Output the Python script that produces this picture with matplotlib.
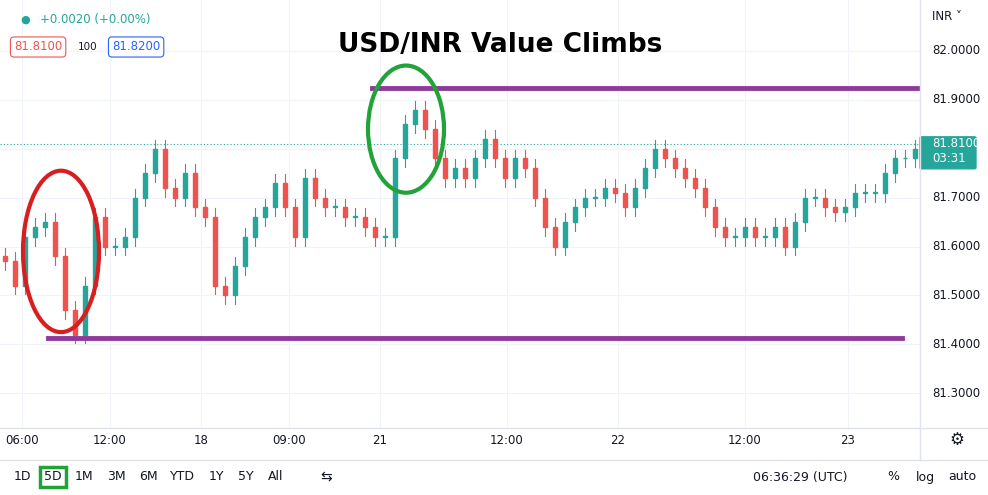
import matplotlib
matplotlib.use("Agg")
import matplotlib.pyplot as plt
from matplotlib.patches import Ellipse, Rectangle, FancyBboxPatch

# closing prices, one candle every 10 px step of the time axis
closes = [81.57, 81.52, 81.62, 81.64, 81.65, 81.58, 81.47, 81.42, 81.52, 81.66,
          81.60, 81.60, 81.62, 81.70, 81.75, 81.80, 81.72, 81.70, 81.75, 81.68,
          81.66, 81.52, 81.50, 81.56, 81.62, 81.66, 81.68, 81.73, 81.68, 81.62,
          81.74, 81.70, 81.68, 81.68, 81.66, 81.66, 81.64, 81.62, 81.62, 81.78,
          81.85, 81.88, 81.84, 81.78, 81.74, 81.76, 81.74, 81.78, 81.82, 81.78,
          81.74, 81.78, 81.76, 81.70, 81.64, 81.60, 81.65, 81.68, 81.70, 81.70,
          81.72, 81.71, 81.68, 81.72, 81.76, 81.80, 81.78, 81.76, 81.74, 81.72,
          81.68, 81.64, 81.62, 81.62, 81.64, 81.62, 81.62, 81.64, 81.60, 81.65,
          81.70, 81.70, 81.68, 81.67, 81.68, 81.71, 81.71, 81.71, 81.75, 81.78,
          81.78, 81.80, 81.81]
first_open = 81.58
x_tick_pos = [22, 110, 201, 289, 380, 507, 618, 745, 848]
x_tick_lab = ["06:00", "12:00", "18", "09:00", "21", "12:00", "22", "12:00", "23"]
y_ticks = [82.0, 81.9, 81.8, 81.7, 81.6, 81.5, 81.4, 81.3]
last_price = 81.81
support, resistance = 81.412, 81.925

W, H = 988, 495
fig = plt.figure(figsize=(W/100, H/100), dpi=100)
fig.patch.set_facecolor("white")
ax = fig.add_axes([0, 67/H, 920/W, 428/H])
ax.set_xlim(0, 920)
ax.set_ylim(81.229, 82.104)
for s in ax.spines.values():
    s.set_visible(False)
ax.set_xticks([]); ax.set_yticks([])
for y in y_ticks:
    ax.axhline(y, color="#f0f3fa", lw=0.8, zorder=0)
for x in x_tick_pos:
    ax.axvline(x, color="#f0f3fa", lw=0.8, zorder=0)

up, dn = "#26a69a", "#ef5350"
o = first_open
for i, c in enumerate(closes):
    x = 5 + i * 10
    col = up if c >= o else dn
    hi, lo = max(o, c) + 0.018, min(o, c) - 0.018
    ax.plot([x, x], [lo, hi], color=col, lw=0.8, zorder=2)
    ax.add_patch(Rectangle((x - 2.2, min(o, c)), 4.4, max(abs(c - o), 0.002),
                           color=col, zorder=3))
    o = c

ax.axhline(last_price, color=up, lw=0.8, ls=(0, (1, 2)), zorder=1)
purple = "#8e3a9c"
ax.plot([372, 918], [resistance, resistance], color=purple, lw=3.5, zorder=4)
ax.plot([48, 902], [support, support], color=purple, lw=3.5, zorder=4)
ax.add_patch(Ellipse((61, 81.59), 76, 0.33, fill=False, ec="#d81e1e", lw=3, zorder=5))
ax.add_patch(Ellipse((406, 81.84), 76, 0.26, fill=False, ec="#22a33a", lw=3, zorder=5))

fig.add_artist(plt.Line2D([920/W, 920/W], [35/H, 1], color="#e0e3eb", lw=1))
fig.add_artist(plt.Line2D([0, 1], [67/H, 67/H], color="#e0e3eb", lw=1))
fig.add_artist(plt.Line2D([0, 1], [35/H, 35/H], color="#e0e3eb", lw=1))

def fy(price):
    return 67/H + (price - 81.229) / (82.104 - 81.229) * 428/H

for y in y_ticks:
    if abs(y - last_price) < 0.03:
        continue  # hidden behind the last-price label
    fig.text(932/W, fy(y), f"{y:.4f}", fontsize=8.5, color="#131722", va="center")
fig.text(932/W, 1 - 16/H, "INR ˅", fontsize=8.5, color="#131722", va="center")
fig.add_artist(FancyBboxPatch((922/W, fy(last_price) - 24/H), 52/W, 30/H,
               boxstyle="round,pad=0.002", fc=up, ec=up, transform=fig.transFigure))
fig.text(932/W, fy(last_price), "81.8100", fontsize=8.5, color="white", va="center")
fig.text(932/W, fy(last_price) - 15/H, "03:31", fontsize=8.5, color="white", va="center")

for x, lab in zip(x_tick_pos, x_tick_lab):
    fig.text(x/W, 1 - 440/H, lab, fontsize=8.5, color="#131722", ha="center", va="center")
fig.text(957/W, 1 - 440/H, "⚙", fontsize=12, color="#131722", ha="center", va="center")

fig.text(500/W, 1 - 45/H, "USD/INR Value Climbs", fontsize=19, fontweight="bold",
         ha="center", va="center", color="#000000")

fig.text(20/W, 1 - 20/H, "●", fontsize=8, color=up, va="center")
fig.text(40/W, 1 - 20/H, "+0.0020 (+0.00%)", fontsize=8.5, color=up, va="center")
fig.text(14/W, 1 - 47/H, "81.8100", fontsize=8.5, color=dn, va="center",
         bbox=dict(boxstyle="round,pad=0.3", fc="white", ec=dn, lw=0.8))
fig.text(78/W, 1 - 47/H, "100", fontsize=7.5, color="#131722", va="center")
fig.text(112/W, 1 - 47/H, "81.8200", fontsize=8.5, color="#2962ff", va="center",
         bbox=dict(boxstyle="round,pad=0.3", fc="white", ec="#2962ff", lw=0.8))

tb = [("1D", 22), ("5D", 53), ("1M", 84), ("3M", 116), ("6M", 148), ("YTD", 182),
      ("1Y", 216), ("5Y", 246), ("All", 276)]
for lab, x in tb:
    kw = {}
    if lab == "5D":
        kw = dict(bbox=dict(boxstyle="square,pad=0.3", fc="white", ec="#22a33a", lw=2.5))
    fig.text(x/W, 1 - 477/H, lab, fontsize=9, color="#131722", ha="center", va="center", **kw)
fig.text(326/W, 1 - 477/H, "⇆", fontsize=10, color="#131722", ha="center", va="center")
fig.text(800/W, 1 - 477/H, "06:36:29 (UTC)", fontsize=9, color="#131722", ha="center", va="center")
fig.text(893/W, 1 - 477/H, "%", fontsize=9, color="#131722", ha="center", va="center")
fig.text(925/W, 1 - 477/H, "log", fontsize=9, color="#131722", ha="center", va="center")
fig.text(962/W, 1 - 477/H, "auto", fontsize=9, color="#131722", ha="center", va="center")

fig.savefig("out.png", dpi=100)
